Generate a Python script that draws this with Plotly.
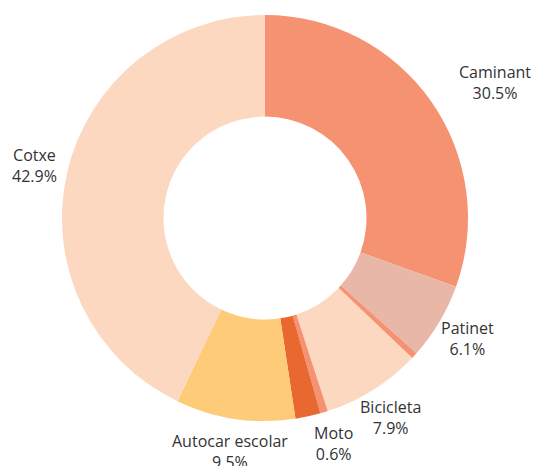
import math
import plotly.graph_objects as go

# Mode of travel shares (%), clockwise from 12 o'clock
modes = ["Caminant", "Patinet", "Altres", "Bicicleta", "Moto", "Transport públic", "Autocar escolar", "Cotxe"]
shares = [30.5, 6.1, 0.5, 7.9, 0.6, 2.0, 9.5, 42.9]
shown = [True, True, False, True, True, False, True, True]
colors = ["#f59272", "#e8b7a7", "#f59272", "#fdd8c0", "#f59272", "#e8682f", "#fecb78", "#fdd8c0"]

# Figure geometry (px)
W, H = 533, 466
M = dict(l=62, r=65, t=15, b=45)
plot_w = W - M["l"] - M["r"]
plot_h = H - M["t"] - M["b"]

# Label ring radius relative to the donut's outer radius, plus a hand nudge (px)
label_ring = 236 / 203
label_nudge = {"Caminant": (37, 0)}

fig = go.Figure(
    go.Pie(
        labels=modes,
        values=shares,
        textinfo="none",
        hole=0.5,
        sort=False,
        direction="clockwise",
        rotation=0,
        marker=dict(colors=colors, line=dict(width=0)),
        showlegend=False,
        hoverinfo="label+percent",
    )
)

# Outside labels placed at each slice's mid-angle
total = sum(shares)
cum = 0.0
outer_r = min(plot_w, plot_h) / 2
for m, v, s in zip(modes, shares, shown):
    mid = (cum + v / 2) / total * 2 * math.pi
    cum += v
    if not s:
        continue
    dx_px = math.sin(mid) * outer_r * label_ring
    dy_px = -math.cos(mid) * outer_r * label_ring  # screen y grows downward
    nx, ny = label_nudge.get(m, (0, 0))
    dx_px += nx
    dy_px += ny
    fig.add_annotation(
        x=0.5 + dx_px / plot_w,
        y=0.5 - dy_px / plot_h,
        xref="paper",
        yref="paper",
        text=f"{m}<br>{v:.1f}%",
        showarrow=False,
        xanchor="center",
        yanchor="middle",
        align="center",
        font=dict(family="Open Sans", size=16, color="#333333"),
    )

fig.update_layout(
    width=W,
    height=H,
    margin=M,
    paper_bgcolor="white",
    plot_bgcolor="white",
)

fig.write_html("out.html")
